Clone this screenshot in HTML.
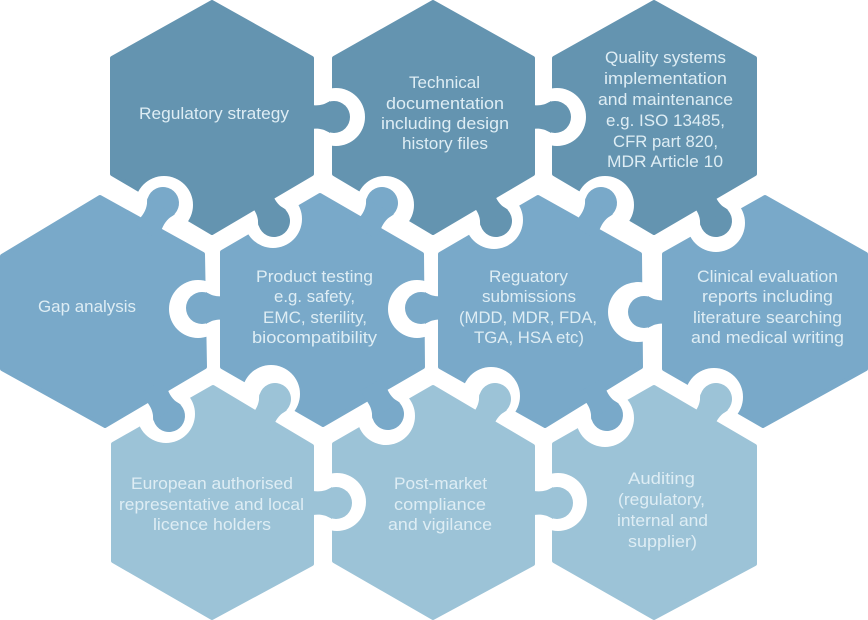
<!DOCTYPE html>
<html>
<head>
<meta charset="utf-8">
<style>
html,body{margin:0;padding:0;background:#fff;width:868px;height:620px;overflow:hidden}
svg{display:block}
text{font-family:"Liberation Sans",sans-serif;font-size:16.5px;fill:#deedf4}
.h{stroke-width:4;stroke-linejoin:round}
.d{fill:#6494b0;stroke:#6494b0}
.m{fill:#79a9c9;stroke:#79a9c9}
.l{fill:#9cc3d7;stroke:#9cc3d7}
.td{fill:#6494b0}
.tm{fill:#79a9c9}
.tl{fill:#9cc3d7}
</style>
</head>
<body>
<svg width="868" height="620" viewBox="0 0 868 620" xmlns="http://www.w3.org/2000/svg">
<defs>
<mask id="a" maskUnits="userSpaceOnUse" x="0" y="0" width="868" height="620"><rect width="868" height="620" fill="#fff"/><circle cx="164" cy="205" r="29"/></mask>
<mask id="b" maskUnits="userSpaceOnUse" x="0" y="0" width="868" height="620"><rect width="868" height="620" fill="#fff"/><circle cx="336" cy="117" r="29"/><circle cx="385" cy="205" r="29"/></mask>
<mask id="c" maskUnits="userSpaceOnUse" x="0" y="0" width="868" height="620"><rect width="868" height="620" fill="#fff"/><circle cx="557" cy="117" r="29"/><circle cx="605" cy="205" r="29"/></mask>
<mask id="e" maskUnits="userSpaceOnUse" x="0" y="0" width="868" height="620"><rect width="868" height="620" fill="#fff"/><circle cx="198" cy="309" r="29"/></mask>
<mask id="f" maskUnits="userSpaceOnUse" x="0" y="0" width="868" height="620"><rect width="868" height="620" fill="#fff"/><circle cx="273" cy="219" r="29"/><circle cx="417" cy="309" r="29"/><circle cx="271" cy="394" r="29"/></mask>
<mask id="g" maskUnits="userSpaceOnUse" x="0" y="0" width="868" height="620"><rect width="868" height="620" fill="#fff"/><circle cx="494" cy="220" r="29"/><circle cx="638" cy="312" r="30"/><circle cx="491" cy="396" r="29"/></mask>
<mask id="h" maskUnits="userSpaceOnUse" x="0" y="0" width="868" height="620"><rect width="868" height="620" fill="#fff"/><circle cx="716" cy="223" r="29"/><circle cx="714" cy="397" r="29"/></mask>
<mask id="i" maskUnits="userSpaceOnUse" x="0" y="0" width="868" height="620"><rect width="868" height="620" fill="#fff"/><circle cx="166" cy="414" r="29"/></mask>
<mask id="j" maskUnits="userSpaceOnUse" x="0" y="0" width="868" height="620"><rect width="868" height="620" fill="#fff"/><circle cx="337" cy="502" r="29"/><circle cx="386" cy="416" r="29"/></mask>
<mask id="k" maskUnits="userSpaceOnUse" x="0" y="0" width="868" height="620"><rect width="868" height="620" fill="#fff"/><circle cx="558" cy="502" r="29"/><circle cx="605" cy="418" r="29"/></mask>
<g id="tab">
<circle cx="0" cy="0" r="16"/>
<path d="M-34,-12 L-23,-12 C-16,-11 -10,-12 -4,-16 L-4,16 C-10,12 -16,11 -23,12 L-34,12 Z"/>
</g>
</defs>

<!-- row 1 -->
<g mask="url(#a)"><path class="h d" d="M212,2 L312,58 L312,174 L212,233 L112,174 L112,58 Z"/></g>
<g mask="url(#b)"><path class="h d" d="M433,2 L533,58 L533,174 L433,233 L334,174 L334,58 Z"/></g>
<g mask="url(#c)"><path class="h d" d="M654,2 L755,58 L755,174 L654,233 L554,174 L554,58 Z"/></g>

<!-- row 2 -->
<g mask="url(#e)"><path class="h m" d="M100,197 L203,254 L205,367 L105,426 L2,369 L2,256 Z"/></g>
<g mask="url(#f)"><path class="h m" d="M320,195 L422,254 L423,367 L323,425 L222,367 L222,252 Z"/></g>
<g mask="url(#g)"><path class="h m" d="M538,197 L640,254 L641,367 L545,426 L440,367 L440,254 Z"/></g>
<g mask="url(#h)"><path class="h m" d="M765,197 L866,254 L866,369 L763,426 L664,369 L664,254 Z"/></g>

<!-- row 3 -->
<g mask="url(#i)"><path class="h l" d="M213,387 L312,446 L312,564 L212,618 L113,561 L113,444 Z"/></g>
<g mask="url(#j)"><path class="h l" d="M433,387 L533,446 L533,564 L433,618 L334,561 L334,444 Z"/></g>
<g mask="url(#k)"><path class="h l" d="M654,387 L755,446 L755,564 L654,618 L554,561 L554,444 Z"/></g>

<!-- tabs -->
<g class="td">
<use href="#tab" transform="translate(334 117)"/>
<use href="#tab" transform="translate(555 117)"/>
<use href="#tab" transform="translate(274 221) rotate(60)"/>
<use href="#tab" transform="translate(496 221) rotate(60)"/>
<use href="#tab" transform="translate(716 221) rotate(60)"/>
</g>
<g class="tm">
<use href="#tab" transform="translate(202 308) rotate(180)"/>
<use href="#tab" transform="translate(421 308) rotate(180)"/>
<use href="#tab" transform="translate(644 312) rotate(180)"/>
<use href="#tab" transform="translate(163 203) rotate(-60)"/>
<use href="#tab" transform="translate(382 203) rotate(-60)"/>
<use href="#tab" transform="translate(601 203) rotate(-60)"/>
<use href="#tab" transform="translate(169 416) rotate(60)"/>
<use href="#tab" transform="translate(388 414) rotate(60)"/>
<use href="#tab" transform="translate(607 415) rotate(60)"/>
</g>
<g class="tl">
<use href="#tab" transform="translate(336 503)"/>
<use href="#tab" transform="translate(557 503)"/>
<use href="#tab" transform="translate(275 399) rotate(-60)"/>
<use href="#tab" transform="translate(495 399) rotate(-60)"/>
<use href="#tab" transform="translate(716 399) rotate(-60)"/>
</g>

<!-- labels -->
<g>
<text x="139" y="119" textLength="150" lengthAdjust="spacingAndGlyphs">Regulatory strategy</text>

<text x="409" y="88" textLength="71" lengthAdjust="spacingAndGlyphs">Technical</text>
<text x="386" y="109" textLength="118" lengthAdjust="spacingAndGlyphs">documentation</text>
<text x="381" y="129" textLength="128" lengthAdjust="spacingAndGlyphs">including design</text>
<text x="402" y="149" textLength="86" lengthAdjust="spacingAndGlyphs">history files</text>

<text x="605" y="63" textLength="121" lengthAdjust="spacingAndGlyphs">Quality systems</text>
<text x="604" y="84" textLength="123" lengthAdjust="spacingAndGlyphs">implementation</text>
<text x="598" y="105" textLength="135" lengthAdjust="spacingAndGlyphs">and maintenance</text>
<text x="606" y="126" textLength="119" lengthAdjust="spacingAndGlyphs">e.g. ISO 13485,</text>
<text x="613" y="147" textLength="105" lengthAdjust="spacingAndGlyphs">CFR part 820,</text>
<text x="607" y="167" textLength="116" lengthAdjust="spacingAndGlyphs">MDR Article 10</text>

<text x="38" y="312" textLength="98" lengthAdjust="spacingAndGlyphs">Gap analysis</text>

<text x="256" y="282" textLength="117" lengthAdjust="spacingAndGlyphs">Product testing</text>
<text x="274" y="302" textLength="81" lengthAdjust="spacingAndGlyphs">e.g. safety,</text>
<text x="263" y="323" textLength="104" lengthAdjust="spacingAndGlyphs">EMC, sterility,</text>
<text x="252" y="343" textLength="125" lengthAdjust="spacingAndGlyphs">biocompatibility</text>

<text x="489" y="282" textLength="79" lengthAdjust="spacingAndGlyphs">Reguatory</text>
<text x="482" y="302" textLength="94" lengthAdjust="spacingAndGlyphs">submissions</text>
<text x="459" y="323" textLength="138" lengthAdjust="spacingAndGlyphs">(MDD, MDR, FDA,</text>
<text x="474" y="343" textLength="110" lengthAdjust="spacingAndGlyphs">TGA, HSA etc)</text>

<text x="697" y="282" textLength="141" lengthAdjust="spacingAndGlyphs">Clinical evaluation</text>
<text x="702" y="302" textLength="131" lengthAdjust="spacingAndGlyphs">reports including</text>
<text x="693" y="323" textLength="149" lengthAdjust="spacingAndGlyphs">literature searching</text>
<text x="691" y="343" textLength="153" lengthAdjust="spacingAndGlyphs">and medical writing</text>

<text x="131" y="489" textLength="162" lengthAdjust="spacingAndGlyphs">European authorised</text>
<text x="119" y="510" textLength="185" lengthAdjust="spacingAndGlyphs">representative and local</text>
<text x="153" y="530" textLength="118" lengthAdjust="spacingAndGlyphs">licence holders</text>

<text x="394" y="489" textLength="93" lengthAdjust="spacingAndGlyphs">Post-market</text>
<text x="394" y="510" textLength="92" lengthAdjust="spacingAndGlyphs">compliance</text>
<text x="388" y="530" textLength="104" lengthAdjust="spacingAndGlyphs">and vigilance</text>

<text x="628" y="484" textLength="67" lengthAdjust="spacingAndGlyphs">Auditing</text>
<text x="618" y="505" textLength="87" lengthAdjust="spacingAndGlyphs">(regulatory,</text>
<text x="617" y="526" textLength="91" lengthAdjust="spacingAndGlyphs">internal and</text>
<text x="628" y="547" textLength="69" lengthAdjust="spacingAndGlyphs">supplier)</text>
</g>
</svg>
</body>
</html>
